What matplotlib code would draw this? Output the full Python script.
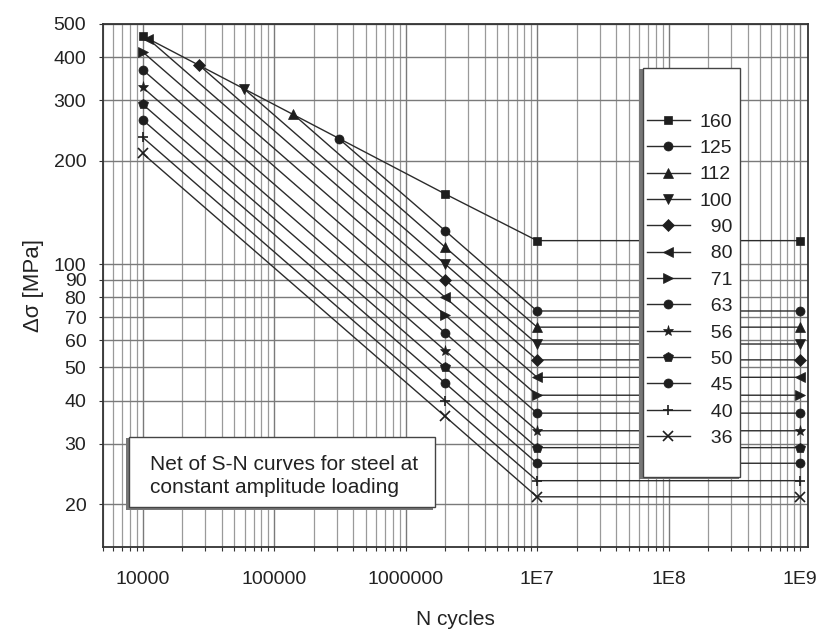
import matplotlib
matplotlib.use("Agg")
import matplotlib.pyplot as plt
from matplotlib.patches import Rectangle
from matplotlib.ticker import FixedLocator, NullFormatter, LogLocator

plt.rcParams['font.family'] = ['Liberation Sans', 'DejaVu Sans']

# detail categories (stress range at 2 million cycles)
categories = [160, 125, 112, 100, 90, 80, 71, 63, 56, 50, 45, 40, 36]
markers = ['s', 'o', '^', 'v', 'D', '<', '>', 'o', '*', 'p', 'o', '+', 'x']
msizes = [6, 6.5, 7, 7, 6, 7, 7, 6.5, 8, 7, 6.5, 7, 7]
# first point of each curve
n_start = [1e4, 3.1e5, 1.4e5, 5.9e4, 2.7e4, 1.1e4, 1e4, 1e4, 1e4, 1e4, 1e4, 1e4, 1e4]
s_start = [462, 232, 273, 324, 379, 453, 415, 368, 327, 292, 263, 234, 210]
# stress range at 1E7 cycles, held flat to 1E9
s_1e7 = [117, 73, 65.5, 58.5, 52.6, 46.8, 41.5, 36.8, 32.7, 29.2, 26.3, 23.4, 21.0]
n_knees = [2e6, 1e7, 1e9]

yticks = [20, 30, 40, 50, 60, 70, 80, 90, 100, 200, 300, 400, 500]
xticks = [1e4, 1e5, 1e6, 1e7, 1e8, 1e9]
xlabels = ['10000', '100000', '1000000', '1E7', '1E8', '1E9']

fig = plt.figure(figsize=(8.17, 6.33), dpi=100)
ax = fig.add_axes([103/817, 1-547/633, (808-103)/817, (547-24)/633])

lines = []
for cat, mk, ms, ns, ss, s7 in zip(categories, markers, msizes, n_start, s_start, s_1e7):
    x = [ns] + n_knees
    y = [ss, cat, s7, s7]
    mew = 1.2 if mk in ('+', 'x') else 0.5
    ln, = ax.plot(x, y, color='#2b2b2b', lw=1.0, marker=mk, ms=ms,
                  mfc='#1e1e1e', mec='#1e1e1e', mew=mew, zorder=3)
    lines.append(ln)

ax.set_xscale('log')
ax.set_yscale('log')
ax.set_xlim(5000, 1.15e9)
ax.set_ylim(15, 500)

ax.yaxis.set_major_locator(FixedLocator(yticks))
ax.yaxis.set_minor_locator(FixedLocator([]))
ax.set_yticklabels([str(v) for v in yticks])
ax.xaxis.set_major_locator(FixedLocator(xticks))
ax.xaxis.set_minor_locator(LogLocator(base=10, subs=range(2, 10)))
ax.xaxis.set_minor_formatter(NullFormatter())
ax.set_xticklabels(xlabels)

ax.tick_params(which='both', direction='out', length=3, width=0.8, colors='#333333',
               labelsize=14, labelcolor='#222222')
ax.tick_params(axis='y', pad=9)
ax.tick_params(axis='x', pad=14)

ax.grid(which='major', color='#7a7a7a', lw=1.0)
ax.grid(which='minor', axis='x', color='#9a9a9a', lw=0.9)
ax.set_axisbelow(True)
for sp in ax.spines.values():
    sp.set_color('#333333')
    sp.set_linewidth(1.3)

ax.set_xlabel('N cycles', fontsize=15, labelpad=16, color='#222222')
ax.set_ylabel('Δσ [MPa]', fontsize=16, labelpad=7, color='#222222')

# text box
T = fig.transFigure
ax.add_patch(Rectangle((126/817, 1-510/633), 307/817, 72/633, transform=T,
                       facecolor='#777777', edgecolor='none', zorder=6, clip_on=False))
ax.add_patch(Rectangle((129/817, 1-507/633), 306/817, 70/633, transform=T,
                       facecolor='white', edgecolor='#444444', lw=1.0, zorder=7, clip_on=False))
ax.text(150/817, 1-476/633, 'Net of S-N curves for steel at\nconstant amplitude loading',
        transform=T, fontsize=15, color='#222222', va='center', ha='left',
        linespacing=1.3, zorder=8)

# legend frame
ax.add_patch(Rectangle((639/817, 1-479/633), 100/817, 410/633, transform=T,
                       facecolor='#777777', edgecolor='none', zorder=6, clip_on=False))
ax.add_patch(Rectangle((643/817, 1-477/633), 97/817, 409/633, transform=T,
                       facecolor='white', edgecolor='#444444', lw=1.0, zorder=7, clip_on=False))

labels = [str(c) if c >= 100 else '  ' + str(c) for c in categories]
leg = fig.legend(lines, labels, loc='upper left', bbox_to_anchor=(647/817, 1-113/633),
                 frameon=False, fontsize=14, handlelength=2.2, handletextpad=0.5,
                 labelspacing=0.45, borderpad=0, borderaxespad=0)
leg.set_zorder(9)
for t in leg.get_texts():
    t.set_color('#222222')

fig.savefig('out.png', dpi=100, facecolor='white')
